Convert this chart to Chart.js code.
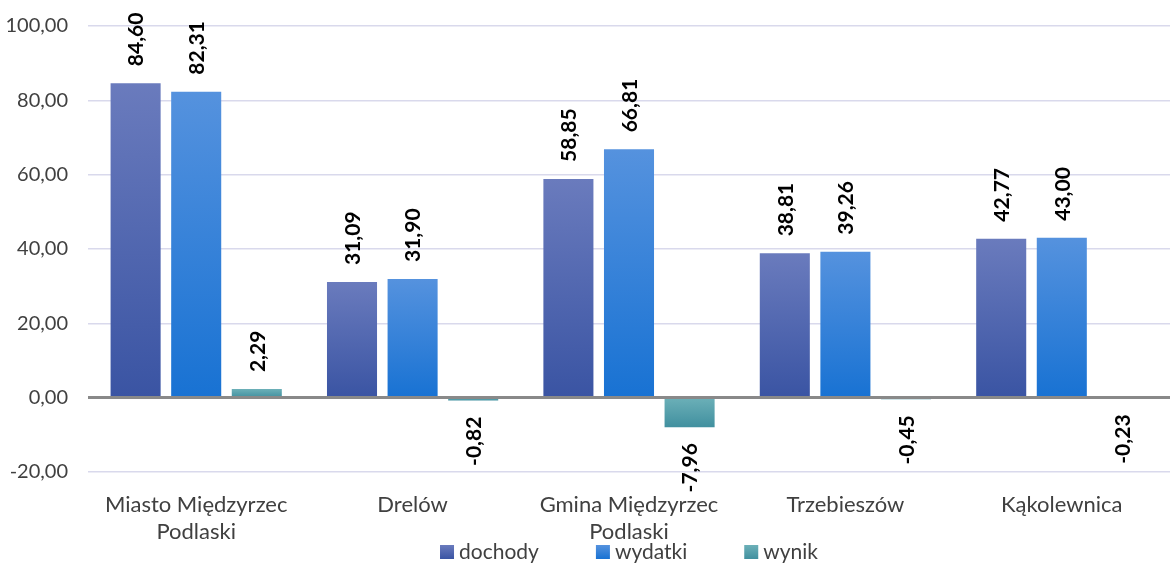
<!DOCTYPE html>
<html>
<head>
<meta charset="utf-8">
<script src="https://cdn.jsdelivr.net/npm/chart.js@4"></script>
<style>
  html, body { margin: 0; padding: 0; background: #fff; }
  #wrap { width: 1170px; height: 565px; }
</style>
</head>
<body>
<div id="wrap"><canvas id="wykres"></canvas></div>
<script>
const gminy = [["Miasto Międzyrzec", "Podlaski"], "Drelów", ["Gmina Międzyrzec", "Podlaski"], "Trzebieszów", "Kąkolewnica"];
const dochody = [84.60, 31.09, 58.85, 38.81, 42.77];
const wydatki = [82.31, 31.90, 66.81, 39.26, 43.00];
const wynik = [2.29, -0.82, -7.96, -0.45, -0.23];
const osY = { min: -20, max: 100, step: 20 };

const FONT = "Lato, 'Noto Sans', sans-serif";
const fmt = v => v.toFixed(2).replace('.', ',');

// gradient per bar, lighter at the top
function gradient(top, bottom) {
  return function (c) {
    const chart = c.chart;
    if (!chart.chartArea || !chart.scales.y) return bottom;
    const y = chart.scales.y;
    const v = c.raw;
    const y0 = y.getPixelForValue(Math.max(v, 0));
    const y1 = y.getPixelForValue(Math.min(v, 0));
    if (!isFinite(y0) || !isFinite(y1) || y0 === y1) return bottom;
    const g = chart.ctx.createLinearGradient(0, y0, 0, y1);
    g.addColorStop(0, top);
    g.addColorStop(1, bottom);
    return g;
  };
}

const zeroLine = {
  id: 'zeroLine',
  afterDatasetsDraw(chart) {
    const { ctx, chartArea, scales: { y } } = chart;
    const py = y.getPixelForValue(0);
    ctx.save();
    ctx.strokeStyle = '#898989';
    ctx.lineWidth = 3;
    ctx.beginPath();
    ctx.moveTo(chartArea.left, py);
    ctx.lineTo(chartArea.right, py);
    ctx.stroke();
    ctx.restore();
  }
};

const etykiety = {
  id: 'etykiety',
  afterDatasetsDraw(chart) {
    const ctx = chart.ctx;
    ctx.save();
    ctx.font = `bold 21px ${FONT}`;
    ctx.fillStyle = '#000';
    ctx.textBaseline = 'middle';
    chart.data.datasets.forEach((ds, i) => {
      chart.getDatasetMeta(i).data.forEach((bar, j) => {
        const v = ds.data[j];
        ctx.save();
        if (v >= 0) {
          ctx.translate(bar.x, bar.y - 17);
          ctx.textAlign = 'left';
        } else {
          ctx.translate(bar.x, bar.y + 16);
          ctx.textAlign = 'right';
        }
        ctx.rotate(-Math.PI / 2);
        ctx.fillText(fmt(v), 0, 1);
        ctx.restore();
      });
    });
    ctx.restore();
  }
};

const legenda = {
  id: 'legenda',
  afterDraw(chart) {
    const { ctx, chartArea } = chart;
    ctx.save();
    ctx.font = `21px ${FONT}`;
    ctx.textBaseline = 'middle';
    const items = chart.data.datasets.map(d => ({
      text: d.label, c1: d.kolory[0], c2: d.kolory[1],
      w: 14 + 5 + ctx.measureText(d.label).width
    }));
    const gap = 57;
    const total = items.reduce((s, it) => s + it.w, 0) + gap * (items.length - 1);
    let x = (chartArea.left + chartArea.right) / 2 - total / 2;
    const y = chart.height - 13;
    items.forEach(it => {
      const g = ctx.createLinearGradient(0, y - 7, 0, y + 7);
      g.addColorStop(0, it.c1);
      g.addColorStop(1, it.c2);
      ctx.fillStyle = g;
      ctx.fillRect(x, y - 7, 14, 14);
      ctx.fillStyle = '#404040';
      ctx.fillText(it.text, x + 19, y);
      x += it.w + gap;
    });
    ctx.restore();
  }
};

new Chart(document.getElementById('wykres'), {
  type: 'bar',
  data: {
    labels: gminy,
    datasets: [
      {
        label: 'dochody',
        data: dochody,
        kolory: ['#6a7bbd', '#3a54a3'],
        backgroundColor: gradient('#6a7bbd', '#3a54a3')
      },
      {
        label: 'wydatki',
        data: wydatki,
        kolory: ['#5592de', '#1872d3'],
        backgroundColor: gradient('#5592de', '#1872d3')
      },
      {
        label: 'wynik',
        data: wynik,
        kolory: ['#6cb0b8', '#41909f'],
        backgroundColor: gradient('#6cb0b8', '#41909f')
      }
    ]
  },
  options: {
    responsive: true,
    maintainAspectRatio: false,
    animation: false,
    categoryPercentage: 0.84,
    barPercentage: 0.826,
    layout: { padding: { top: 26, right: 0, bottom: 1, left: 0 } },
    scales: {
      x: {
        grid: { display: false, drawTicks: false },
        border: { display: false },
        ticks: {
          color: '#404040',
          font: { family: FONT, size: 22, lineHeight: 1.23 },
          padding: 19,
          maxRotation: 0,
          autoSkip: false
        }
      },
      y: {
        min: osY.min,
        max: osY.max,
        afterFit: s => { s.width = 88; s.paddingTop = 0; s.paddingBottom = 0; },
        border: { display: false },
        grid: {
          drawTicks: false,
          lineWidth: 1.5,
          color: c => (c.tick && c.tick.value === 0) ? 'rgba(0,0,0,0)' : '#d9d9ec'
        },
        ticks: {
          stepSize: osY.step,
          color: '#404040',
          font: { family: FONT, size: 20 },
          padding: 20,
          callback: v => fmt(v)
        }
      }
    },
    plugins: {
      legend: { display: false },
      tooltip: { enabled: false }
    }
  },
  plugins: [zeroLine, etykiety, legenda]
});
</script>
</body>
</html>
